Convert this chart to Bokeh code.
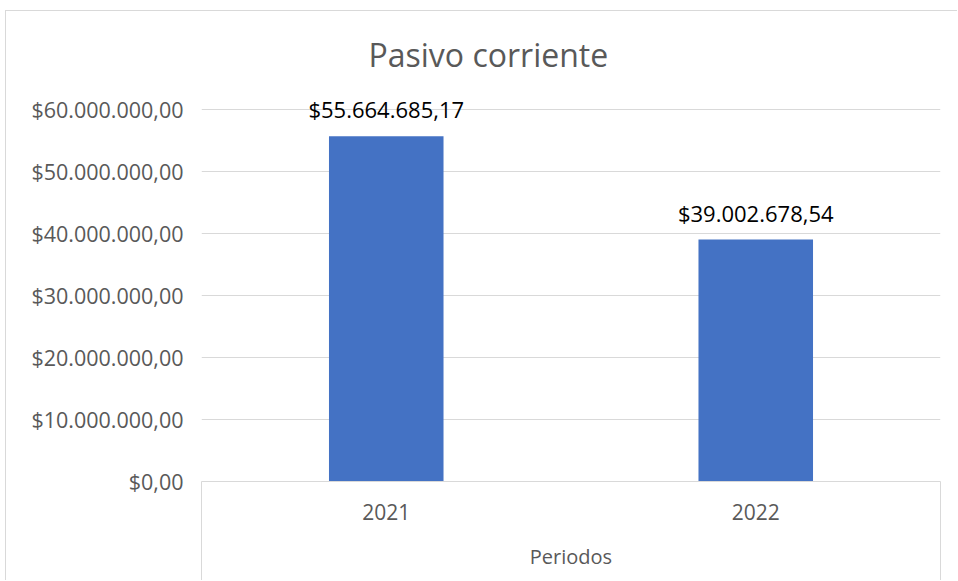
from bokeh.plotting import figure
from bokeh.models import Range1d, FixedTicker, ColumnDataSource, LabelSet
from bokeh.core.properties import value
from bokeh.embed import file_html
from bokeh.resources import INLINE

# ---- data ----
chart_title = "Pasivo corriente"
periods = ["2021", "2022"]
values = [55664685.17, 39002678.54]
value_labels = ["$55.664.685,17", "$39.002.678,54"]
y_ticks = [0, 10000000, 20000000, 30000000, 40000000, 50000000, 60000000]
y_tick_labels = ["$0,00", "$10.000.000,00", "$20.000.000,00", "$30.000.000,00",
                 "$40.000.000,00", "$50.000.000,00", "$60.000.000,00"]
x_axis_label = "Periodos"

FONT = "Open Sans"
GRAY = "#595959"
GRID = "#D9D9D9"
BAR = "#4472C4"

xs = [i + 0.5 for i in range(len(periods))]
src = ColumnDataSource(dict(x=xs, top=values, label=value_labels))

# y range a bit above the top tick so the first value label is not clipped
p = figure(width=952, height=570, output_backend="svg", toolbar_location=None,
           x_range=Range1d(0, len(periods)), y_range=Range1d(0, 64500000),
           min_border_left=195, min_border_right=18, min_border_top=70,
           min_border_bottom=100)
p.styles = {"margin-left": "5px", "margin-top": "10px",
            "border-left": "1px solid #D9D9D9", "border-top": "1px solid #D9D9D9"}
p.outline_line_color = None
p.background_fill_color = "white"
p.border_fill_color = "white"

p.vbar(x="x", top="top", width=0.31, source=src, fill_color=BAR, line_color=None)

labels = LabelSet(x="x", y="top", text="label", source=src, text_align="center",
                  text_baseline="alphabetic", y_offset=18, text_font=value(FONT),
                  text_font_size="22px", text_color="#000000")
p.add_layout(labels)

# title
p.title.text = chart_title
p.title.align = "left"
p.title.offset = 167
p.title.standoff = 11
p.title.text_font = FONT
p.title.text_font_size = "32px"
p.title.text_font_style = "normal"
p.title.text_color = GRAY

# y axis
p.yaxis.ticker = FixedTicker(ticks=y_ticks)
p.yaxis.major_label_overrides = {t: l for t, l in zip(y_ticks, y_tick_labels)}
p.yaxis.axis_line_color = None
p.yaxis.major_tick_line_color = None
p.yaxis.major_tick_out = 0
p.yaxis.major_tick_in = 0
p.yaxis.minor_tick_line_color = None
p.yaxis.minor_tick_out = 0
p.yaxis.minor_tick_in = 0
p.yaxis.major_label_standoff = 18
p.yaxis.major_label_text_font = FONT
p.yaxis.major_label_text_font_size = "21.5px"
p.yaxis.major_label_text_color = GRAY
p.ygrid.ticker = FixedTicker(ticks=y_ticks)
p.ygrid.grid_line_color = GRID
p.xgrid.grid_line_color = None

# x axis (long minor ticks at both ends act as category separators)
p.xaxis.ticker = FixedTicker(ticks=xs, minor_ticks=[0, len(periods)])
p.xaxis.major_label_overrides = {x: l for x, l in zip(xs, periods)}
p.xaxis.axis_line_color = GRID
p.xaxis.major_tick_line_color = None
p.xaxis.major_tick_out = 0
p.xaxis.major_tick_in = 0
p.xaxis.minor_tick_line_color = GRID
p.xaxis.minor_tick_out = 100
p.xaxis.minor_tick_in = 0
p.xaxis.major_label_standoff = -78
p.xaxis.major_label_text_font = FONT
p.xaxis.major_label_text_font_size = "21px"
p.xaxis.major_label_text_color = GRAY
p.xaxis.axis_label = x_axis_label
p.xaxis.axis_label_standoff = 20
p.xaxis.axis_label_text_font = FONT
p.xaxis.axis_label_text_font_size = "20px"
p.xaxis.axis_label_text_font_style = "normal"
p.xaxis.axis_label_text_color = GRAY

open("out.html", "w").write(file_html(p, INLINE))
